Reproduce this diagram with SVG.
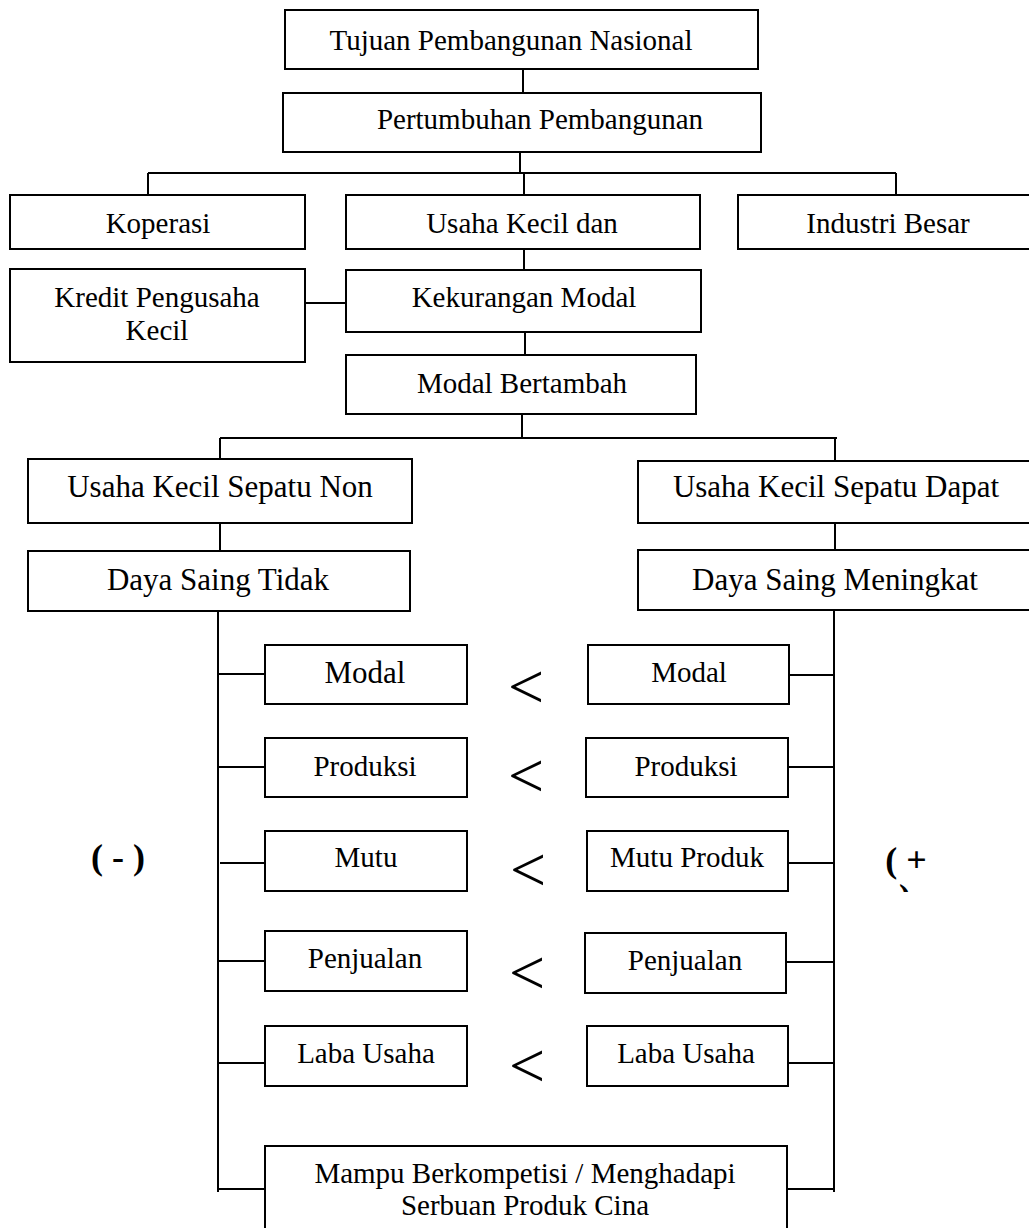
<svg xmlns="http://www.w3.org/2000/svg" width="1029" height="1228" viewBox="0 0 1029 1228">
<style>
.box{fill:#fff;stroke:#000;stroke-width:2}
.ln{fill:none;stroke:#000;stroke-width:2}
text{font-family:"Liberation Serif","Times New Roman",serif;fill:#000;text-anchor:middle}
.t{font-size:29px}
.t31{font-size:31px}
.lt{font-size:64px}
.sg{font-size:36px;font-weight:bold}
</style>
<defs>
<clipPath id="cp"><rect x="890" y="880" width="30" height="12"/></clipPath>
</defs>
<g id="connectors">
<path class="ln" d="M523 69V93"/>
<path class="ln" d="M520 152V173M148 173H896M148 173V195M896 173V195M524 173V195"/>
<path class="ln" d="M524 249V270"/>
<path class="ln" d="M305 303H346"/>
<path class="ln" d="M525 332V355"/>
<path class="ln" d="M522 414V438M220 438H837M220 438V459M835 438V462"/>
<path class="ln" d="M220 523V551M835 523V550"/>
<path class="ln" d="M218 611V1192M834 610V1192"/>
<path class="ln" d="M218 674H265M218 767H265M220 863H269M218 961H265M218 1063H265M218 1189H265"/>
<path class="ln" d="M789 675H834M788 767H834M788 863H834M786 962H834M788 1063H834M787 1189H834"/>
</g>
<g id="n-tujuan"><rect class="box" x="285" y="10" width="473" height="59"/><text class="t" x="511" y="50">Tujuan Pembangunan Nasional</text></g>
<g id="n-pertumbuhan"><rect class="box" x="283" y="93" width="478" height="59"/><text class="t" x="540" y="129">Pertumbuhan Pembangunan</text></g>
<g id="n-koperasi"><rect class="box" x="10" y="195" width="295" height="54"/><text class="t" x="158" y="233">Koperasi</text></g>
<g id="n-usahakecil"><rect class="box" x="346" y="195" width="354" height="54"/><text class="t" x="522" y="233">Usaha Kecil dan</text></g>
<g id="n-industri"><rect class="box" x="738" y="195" width="300" height="54"/><text class="t" x="888" y="233">Industri Besar</text></g>
<g id="n-kredit"><rect class="box" x="10" y="269" width="295" height="93"/><text class="t" x="157" y="307">Kredit Pengusaha</text><text class="t" x="157" y="340">Kecil</text></g>
<g id="n-kekurangan"><rect class="box" x="346" y="270" width="355" height="62"/><text class="t" x="524" y="307">Kekurangan Modal</text></g>
<g id="n-modalbertambah"><rect class="box" x="346" y="355" width="350" height="59"/><text class="t" x="522" y="393">Modal Bertambah</text></g>
<g id="n-non"><rect class="box" x="28" y="459" width="384" height="64"/><text class="t31" x="220" y="497">Usaha Kecil Sepatu Non</text></g>
<g id="n-dapat"><rect class="box" x="638" y="461" width="400" height="62"/><text class="t31" x="836" y="497">Usaha Kecil Sepatu Dapat</text></g>
<g id="n-tidak"><rect class="box" x="28" y="551" width="382" height="60"/><text class="t31" x="218" y="590">Daya Saing Tidak</text></g>
<g id="n-meningkat"><rect class="box" x="638" y="550" width="400" height="60"/><text class="t31" x="835" y="590">Daya Saing Meningkat</text></g>
<g id="n-modal-l"><rect class="box" x="265" y="645" width="202" height="59"/><text class="t31" x="365" y="683">Modal</text></g>
<g id="n-modal-r"><rect class="box" x="588" y="645" width="201" height="59"/><text class="t" x="689" y="682">Modal</text></g>
<g id="n-produksi-l"><rect class="box" x="265" y="738" width="202" height="59"/><text class="t" x="365" y="776">Produksi</text></g>
<g id="n-produksi-r"><rect class="box" x="586" y="738" width="202" height="59"/><text class="t" x="686" y="776">Produksi</text></g>
<g id="n-mutu-l"><rect class="box" x="265" y="831" width="202" height="60"/><text class="t" x="366" y="867">Mutu</text></g>
<g id="n-mutu-r"><rect class="box" x="587" y="831" width="201" height="60"/><text class="t" x="687" y="867">Mutu Produk</text></g>
<g id="n-penjualan-l"><rect class="box" x="265" y="931" width="202" height="60"/><text class="t" x="365" y="968">Penjualan</text></g>
<g id="n-penjualan-r"><rect class="box" x="585" y="933" width="201" height="60"/><text class="t" x="685" y="970">Penjualan</text></g>
<g id="n-laba-l"><rect class="box" x="265" y="1026" width="202" height="60"/><text class="t" x="366" y="1063">Laba Usaha</text></g>
<g id="n-laba-r"><rect class="box" x="587" y="1026" width="201" height="60"/><text class="t" x="686" y="1063">Laba Usaha</text></g>
<g id="n-mampu"><rect class="box" x="265" y="1146" width="522" height="100"/><text class="t" x="525" y="1183">Mampu Berkompetisi / Menghadapi</text><text class="t" x="525" y="1215">Serbuan Produk Cina</text></g>
<g id="comparisons">
<text class="lt" x="526" y="708">&lt;</text>
<text class="lt" x="526" y="797">&lt;</text>
<text class="lt" x="528" y="891">&lt;</text>
<text class="lt" x="527" y="994">&lt;</text>
<text class="lt" x="527" y="1087">&lt;</text>
</g>
<g id="signs">
<text class="sg" x="118" y="869">( - )</text>
<text class="sg" x="906" y="872">( +</text>
<text class="sg" x="905" y="909" clip-path="url(#cp)">)</text>
</g>
</svg>
